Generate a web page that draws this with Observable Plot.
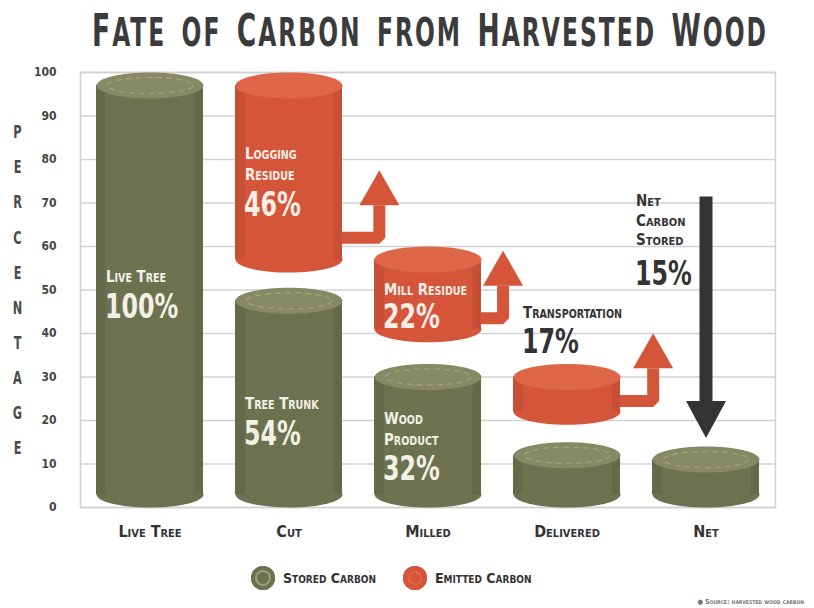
<!DOCTYPE html>
<html>
<head>
<meta charset="utf-8">
<script src="https://cdn.jsdelivr.net/npm/d3@7"></script>
<script src="https://cdn.jsdelivr.net/npm/@observablehq/plot@0.6"></script>
<style>
  html, body { margin: 0; padding: 0; background: #fff; }
  body { width: 814px; height: 608px; position: relative; overflow: hidden;
         font-family: "Liberation Sans Narrow", "DejaVu Sans Condensed", "Roboto Condensed", "Liberation Sans", sans-serif;
         font-weight: bold; color: #333; }
  #title { position: absolute; top: 9px; left: 0; width: 814px; text-align: left; white-space: nowrap;
           font-size: 44px; line-height: 44px; color: #3b3b3b; }
  #title span.t { display: inline-block; transform-origin: 0 0; letter-spacing: 3px; }
  #title span.s { font-size: 0.88em; }
  #chart { position: absolute; top: 60px; left: 0; }
  #chart g[aria-label^="y-axis"] text { font-size: 12px; fill: #444; }
  #chart g[aria-label^="x-axis"] text { font-size: 16px; font-variant: small-caps; fill: #333; }
  #legend { position: absolute; top: 566px; left: 251px; height: 24px; display: flex; align-items: center;
            font-size: 14px; font-variant: small-caps; color: #333; }
  #legend .sw { width: 24px; height: 24px; border-radius: 50%; display: inline-block; margin-right: 8px; box-sizing: border-box; }
  #legend .lab { margin-right: 27px; display: inline-block; transform-origin: 0 50%; }
  #caption { position: absolute; top: 598px; right: 10px; font-size: 7px; color: #777; font-variant: small-caps; }
</style>
</head>
<body>
<div id="title"></div>
<div id="chart"></div>
<div id="legend"></div>
<div id="caption">● Source: harvested wood carbon</div>
<script>
// ---------------- data ----------------
const titleText = "Fate of Carbon from Harvested Wood";
const stages = ["Live Tree", "Cut", "Milled", "Delivered", "Net"];
// stored carbon cylinders (as drawn, % scale)
const storedTop = [100, 50.5, 33, 15, 14];
const storedName = ["Live Tree", "Tree Trunk", "Wood\nProduct"];
const storedPct = [100, 54, 32];
// emitted carbon cylinders
const emittedStage = ["Cut", "Milled", "Delivered"];
const emittedLow = [54, 38, 19];
const emittedHigh = [100, 60, 33];
const emittedName = ["Logging\nResidue", "Mill Residue", "Transportation"];
const emittedPct = [46, 22, 17];
// emission arrows
const arrowElbowX = [1.65, 2.54, 3.62];
const arrowLevel = [62, 43.5, 24.5];
const arrowHeadBase = [69.5, 51, 32];
// net stored
const netName = "Net\nCarbon\nStored";
const netPct = 15;
const netArrowTop = 71.5;
const netArrowHeadBase = 24.5;
// axis
const yTicks = [0, 10, 20, 30, 40, 50, 60, 70, 80, 90, 100];
const yLabel = "PERCENTAGE";
const legendLabels = ["Stored Carbon", "Emitted Carbon"];

// ---------------- style ----------------
const GREEN = "#6c7150", GREEN_TOP = "#858a64", GREEN_RING = "#9ba07a";
const RED = "#d5553a", RED_TOP = "#df6749";
const DARK = "#333333";
const W = 814, H = 490, ML = 80, MR = 39, MT = 12, MB = 43;
const PX = (W - ML - MR) / 5;   // pixels per stage unit
const HW = 0.385;               // half cylinder width, stage units
const RX = HW * PX, RY = 13;

function ellipseSymbol(rx, ry) {
  const k = 0.5523;
  return { draw(c) {
    c.moveTo(rx, 0);
    c.bezierCurveTo(rx, k * ry, k * rx, ry, 0, ry);
    c.bezierCurveTo(-k * rx, ry, -rx, k * ry, -rx, 0);
    c.bezierCurveTo(-rx, -k * ry, -k * rx, -ry, 0, -ry);
    c.bezierCurveTo(k * rx, -ry, rx, -k * ry, rx, 0);
    c.closePath();
  }};
}
function headSymbol(w, h, dir) {
  return { draw(c) { c.moveTo(-w / 2, 0); c.lineTo(w / 2, 0); c.lineTo(0, dir * h); c.closePath(); } };
}

// ---------------- tables ----------------
const stored = stages.map((s, i) => ({ i, low: 0, high: storedTop[i] }));
const emitted = emittedStage.map((s, j) => ({ i: stages.indexOf(s), low: emittedLow[j], high: emittedHigh[j] }));
const allCyl = stored.concat(emitted);

const arrowPts = [];
emittedStage.forEach((s, j) => {
  const i = stages.indexOf(s);
  arrowPts.push({ id: j, x: i, y: arrowLevel[j] });
  arrowPts.push({ id: j, x: arrowElbowX[j], y: arrowLevel[j] });
  arrowPts.push({ id: j, x: arrowElbowX[j], y: arrowHeadBase[j] });
});
const arrowHeads = arrowElbowX.map((x, j) => ({ x, y: arrowHeadBase[j] }));
const netIdx = stages.indexOf("Net");
const netArrow = [{ x: netIdx, y: netArrowTop }, { x: netIdx, y: netArrowHeadBase }];

// label anchors (y in % units)
const storedNameY = [53.3, 24.2, 18.3];
const storedPctY = [46.0, 16.9, 8.8];
const emittedNameY = [79.2, 50.3, 45.2];
const emittedPctY = [69.4, 43.6, 38.0];
const storedLbl = storedName.map((n, k) => ({ i: k, name: n, pct: storedPct[k] + "%", yn: storedNameY[k], yp: storedPctY[k] }));
const emittedLbl = emittedName.map((n, j) => ({ i: stages.indexOf(emittedStage[j]), name: n, pct: emittedPct[j] + "%", yn: emittedNameY[j], yp: emittedPctY[j], inside: j < 2 }));

const FONT = "Liberation Sans Narrow, DejaVu Sans Condensed, Roboto Condensed, Liberation Sans, sans-serif";
const LIGHT = "#f3f1e6";

const chart = Plot.plot({
  width: W, height: H, marginLeft: ML, marginRight: MR, marginTop: MT, marginBottom: MB,
  style: { fontFamily: FONT, fontWeight: "bold", background: "transparent", color: DARK },
  x: { domain: [-0.5, 4.5], ticks: [0, 1, 2, 3, 4], tickFormat: (i) => stages[i], tickSize: 0, tickPadding: 18, label: null },
  y: { domain: [0, 100], ticks: yTicks, tickSize: 0, tickPadding: 24, label: null },
  marks: [
    Plot.ruleY(yTicks, { stroke: "#d2d2d2", strokeWidth: 1.6 }),
    Plot.frame({ stroke: "#d2d2d2", strokeWidth: 1.6 }),
    Plot.text([yLabel.split("").join("\n")], { text: (d) => d, frameAnchor: "left", dx: -63, dy: -5, textAnchor: "middle",
      lineAnchor: "middle", lineHeight: 1.95, fontSize: 18, fill: "#4a4a4a", ariaDescription: "squash 0.7" }),
    // emission arrows (behind cylinders)
    Plot.line(arrowPts, { x: "x", y: "y", z: "id", stroke: RED, strokeWidth: 12, strokeLinejoin: "miter", strokeLinecap: "butt" }),
    Plot.dot(arrowHeads, { x: "x", y: "y", symbol: headSymbol(40, 35, -1), r: 10, fill: RED, stroke: "none" }),
    // cylinders: bottom ellipse, body, edge shade, top ellipse
    Plot.dot(stored, { x: "i", y: "low", dy: -RY, symbol: ellipseSymbol(RX, RY), r: 10, fill: GREEN, stroke: "none" }),
    Plot.dot(emitted, { x: "i", y: "low", dy: -RY, symbol: ellipseSymbol(RX, RY), r: 10, fill: RED, stroke: "none" }),
    Plot.rectY(stored, { x1: (d) => d.i - HW, x2: (d) => d.i + HW, y1: "low", y2: "high", insetTop: RY, insetBottom: RY, fill: GREEN }),
    Plot.rectY(emitted, { x1: (d) => d.i - HW, x2: (d) => d.i + HW, y1: "low", y2: "high", insetTop: RY, insetBottom: RY, fill: RED }),
    Plot.rectY(allCyl, { x1: (d) => d.i - HW, x2: (d) => d.i - HW + 0.07, y1: "low", y2: "high", insetTop: RY, insetBottom: RY, fill: "#000", fillOpacity: 0.07 }),
    Plot.rectY(allCyl, { x1: (d) => d.i + HW - 0.06, x2: (d) => d.i + HW, y1: "low", y2: "high", insetTop: RY, insetBottom: RY, fill: "#000", fillOpacity: 0.07 }),
    Plot.dot(stored, { x: "i", y: "high", dy: RY, symbol: ellipseSymbol(RX, RY), r: 10, fill: GREEN_TOP, stroke: "none" }),
    Plot.dot(stored, { x: "i", y: "high", dy: RY, symbol: ellipseSymbol(RX * 0.8, RY * 0.62), r: 10, fill: "none", stroke: GREEN_RING, strokeWidth: 1.5, strokeDasharray: "6 4" }),
    Plot.dot(emitted, { x: "i", y: "high", dy: RY, symbol: ellipseSymbol(RX, RY), r: 10, fill: RED_TOP, stroke: "none" }),
    // net arrow
    Plot.line(netArrow, { x: "x", y: "y", stroke: DARK, strokeWidth: 13, strokeLinecap: "butt" }),
    Plot.dot([netArrow[1]], { x: "x", y: "y", symbol: headSymbol(40, 37, 1), r: 10, fill: DARK, stroke: "none" }),
    // labels
    Plot.text(storedLbl, { x: "i", y: "yn", text: "name", dx: -44, textAnchor: "start", lineAnchor: "middle", fontSize: 16, lineHeight: 1.3, fontVariant: "small-caps", fill: LIGHT, ariaDescription: "squash 0.93" }),
    Plot.text(storedLbl, { x: "i", y: "yp", text: "pct", dx: -45, textAnchor: "start", lineAnchor: "middle", fontSize: 33, fill: LIGHT, ariaDescription: "squash 0.8" }),
    Plot.text(emittedLbl, { x: "i", y: "yn", text: "name", dx: -44, textAnchor: "start", lineAnchor: "middle", fontSize: 16, lineHeight: 1.3, fontVariant: "small-caps", fill: (d) => d.inside ? "#fbeee6" : DARK, ariaDescription: "squash 0.93" }),
    Plot.text(emittedLbl, { x: "i", y: "yp", text: "pct", dx: -45, textAnchor: "start", lineAnchor: "middle", fontSize: 33, fill: (d) => d.inside ? "#fbeee6" : DARK, ariaDescription: "squash 0.8" }),
    Plot.text([netName], { x: netIdx, y: 66.2, text: (d) => d, dx: -70, textAnchor: "start", lineAnchor: "middle", fontSize: 15, lineHeight: 1.3, fontVariant: "small-caps", fill: DARK, ariaDescription: "squash 1" }),
    Plot.text([netPct + "%"], { x: netIdx, y: 53.6, text: (d) => d, dx: -71, textAnchor: "start", lineAnchor: "middle", fontSize: 33, fill: DARK, ariaDescription: "squash 0.8" })
  ]
});
document.getElementById("chart").appendChild(chart);

// condense text marks horizontally (the reference uses a tall, narrow typeface)
chart.querySelectorAll('g[aria-description^="squash"]').forEach((g) => {
  const s = +g.getAttribute("aria-description").split(" ")[1];
  g.querySelectorAll("text").forEach((t) => {
    const tr = t.getAttribute("transform") || "";
    t.setAttribute("transform", `${tr} scale(${s},1)`);
  });
});

// title (small caps built from the title text)
const title = document.getElementById("title");
const t = document.createElement("span");
t.className = "t";
for (const ch of titleText) {
  if (ch === " ") { t.appendChild(document.createTextNode("\u2002")); continue; }
  if (ch === ch.toUpperCase()) t.appendChild(document.createTextNode(ch));
  else { const s = document.createElement("span"); s.className = "s"; s.textContent = ch.toUpperCase(); t.appendChild(s); }
}
title.appendChild(t);
const tw = t.getBoundingClientRect().width;
const targetW = 676;
t.style.transform = `translateX(92px) scaleX(${targetW / tw})`;

// legend
const legend = document.getElementById("legend");
const swatchStyles = [
  `background:${GREEN}; box-shadow: inset 0 0 0 4px ${GREEN}, inset 0 0 0 6px ${GREEN_RING};`,
  `background:${RED}; box-shadow: inset 0 0 0 5px ${RED}, inset 0 0 0 7px ${RED_TOP};`
];
legendLabels.forEach((lab, k) => {
  const sw = document.createElement("span"); sw.className = "sw"; sw.style.cssText = swatchStyles[k];
  const tx = document.createElement("span"); tx.className = "lab"; tx.textContent = lab;
  legend.appendChild(sw); legend.appendChild(tx);
});
</script>
</body>
</html>
